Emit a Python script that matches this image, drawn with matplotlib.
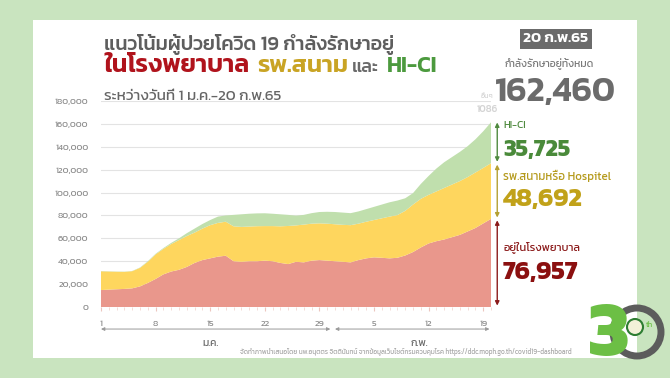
import matplotlib
matplotlib.use("Agg")
import matplotlib.pyplot as plt
from matplotlib.patches import Rectangle, Ellipse

plt.rcParams['font.family'] = ['Kanit', 'DejaVu Sans']

# 1 Jan - 20 Feb 2022 (day index 1..51)
days = list(range(1, 52))
hospital = [14800, 15200, 15500, 15800, 16300, 18000, 21000, 24500, 28500, 31000,
            32500, 35000, 38500, 41000, 42500, 44000, 44800, 40000, 39500, 40000,
            40000, 40500, 40000, 38500, 37500, 39500, 39000, 40500, 41000, 40500,
            40000, 39500, 39000, 41000, 42500, 43400, 43000, 42500, 43000, 45000,
            48000, 52000, 55500, 57500, 59000, 61000, 63000, 66000, 69000, 73000,
            76957]
hospitel = [16400, 15800, 15300, 14900, 15000, 16200, 18500, 21500, 22300, 24000,
            26000, 27000, 26500, 27500, 29000, 29500, 29700, 30500, 30500, 30300,
            30600, 30200, 30700, 32000, 33300, 31800, 33000, 32300, 32100, 32300,
            32300, 32300, 32500, 31800, 32000, 32600, 34500, 36500, 37300, 39000,
            41500, 42500, 42500, 43500, 45000, 46000, 47000, 47500, 48500, 48500,
            48692]
hici = [200, 200, 200, 200, 200, 300, 500, 500, 700, 1000,
        1500, 2500, 3500, 4000, 4500, 5500, 5500, 10000, 11000, 11200,
        11200, 11200, 10800, 10500, 9700, 8500, 8500, 9200, 9900, 10400,
        10700, 10700, 10500, 10700, 11000, 11500, 12000, 12500, 12700, 11000,
        10000, 13000, 16500, 20000, 22500, 24000, 25500, 27000, 29000, 32000,
        35725]
others_last = 1086
total_last = 162460
date_label = '20 ก.พ.65'

xtick_days = [1, 8, 15, 22, 29, 36, 43, 50]
xtick_labels = ['1', '8', '15', '22', '29', '5', '12', '19']
yticks = list(range(0, 180001, 20000))

W, H = 670, 378
fig = plt.figure(figsize=(6.7, 3.78), dpi=100, facecolor='#c9e4bf')


def fx(x):
    return x / W


def fy(y):
    return 1 - y / H


# white card
fig.patches.append(Rectangle((fx(33), fy(358)), fx(637) - fx(33), fy(20) - fy(358),
                             transform=fig.transFigure, facecolor='white',
                             edgecolor='none', zorder=-2))

ax = fig.add_axes([fx(101), fy(307), fx(491) - fx(101), fy(101) - fy(307)])
ax.set_facecolor('none')
ax.stackplot(days, hospital, hospitel, hici,
             colors=['#e9978c', '#fed65e', '#c0dfad'], linewidth=0)
ax.set_xlim(1, 51)
ax.set_ylim(0, 180000)
for s in ax.spines.values():
    s.set_visible(False)
ax.set_yticks(yticks)
ax.set_yticklabels([f'{v:,}' for v in yticks])
ax.yaxis.grid(True, color='#e3e3e3', lw=0.8)
ax.set_axisbelow(True)
ax.tick_params(axis='y', length=0, pad=9, labelsize=6.5, labelcolor='#8c8c8c')
ax.set_xticks(xtick_days)
ax.set_xticklabels(xtick_labels)
ax.set_xticks(days, minor=True)
ax.tick_params(axis='x', which='major', length=3, color='#ecc6bf', pad=6,
               labelsize=6.5, labelcolor='#8c8c8c')
ax.tick_params(axis='x', which='minor', length=2, color='#f2d6d0')

# month arrows under the axis
tr = ax.get_xaxis_transform()
arrow_kw = dict(arrowstyle='<|-|>', color='#9a9a9a', lw=0.7, mutation_scale=5,
                shrinkA=0, shrinkB=0)
ax.annotate('', xy=(1, -0.107), xytext=(30.4, -0.107), xycoords=tr,
            arrowprops=arrow_kw, annotation_clip=False)
ax.annotate('', xy=(31.0, -0.107), xytext=(50.8, -0.107), xycoords=tr,
            arrowprops=arrow_kw, annotation_clip=False)
ax.text(15.1, -0.175, 'ม.ค.', transform=tr, ha='center', va='center',
        fontsize=7.5, color='#6a6a6a')
ax.text(41.8, -0.175, 'ก.พ.', transform=tr, ha='center', va='center',
        fontsize=7.5, color='#6a6a6a')

# segment arrows at the right edge
seg_x = 51.8
h_top = hospital[-1]
y_top = h_top + hospitel[-1]
segs = [(0, h_top, '#8b1a1a'), (h_top, y_top, '#b4a033'), (y_top, total_last, '#4f8a3f')]
for lo, hi, col in segs:
    ax.annotate('', xy=(seg_x, lo), xytext=(seg_x, hi), xycoords='data',
                arrowprops=dict(arrowstyle='<|-|>', color=col, lw=1.0,
                                mutation_scale=6, shrinkA=1, shrinkB=1),
                annotation_clip=False)

# titles
fig.text(fx(104), fy(50), 'แนวโน้มผู้ป่วยโควิด 19 กำลังรักษาอยู่', fontsize=14.3,
         fontweight='medium', color='#5e5e5e', va='baseline')
fig.text(fx(104), fy(72), 'ในโรงพยาบาล', fontsize=18, fontweight='semibold',
         color='#b0131c', va='baseline')
fig.text(fx(257), fy(72), 'รพ.สนาม', fontsize=17.5, fontweight='semibold',
         color='#c9a424', va='baseline')
fig.text(fx(352), fy(72), 'และ', fontsize=13, fontweight='medium',
         color='#6a6a6a', va='baseline')
fig.text(fx(387), fy(72), 'HI-CI', fontsize=16, fontweight='semibold',
         color='#4c9a3e', va='baseline')
fig.text(fx(104), fy(100), 'ระหว่างวันที่ 1 ม.ค.-20 ก.พ.65', fontsize=11,
         fontweight='normal', color='#666666', va='baseline')

# right-hand summary
fig.text(fx(556), fy(39), date_label, fontsize=11, fontweight='semibold',
         color='white', ha='center', va='center',
         bbox=dict(boxstyle='square,pad=0.25', facecolor='#6b6b6b', edgecolor='none'))
fig.text(fx(549), fy(63), 'กำลังรักษาอยู่ทั้งหมด', fontsize=7.5,
         color='#7a7a7a', ha='center', va='center')
fig.text(fx(555), fy(101), f'{total_last:,}', fontsize=25, fontweight='semibold',
         color='#6b6b6b', ha='center', va='baseline')
fig.text(fx(487), fy(96), 'อื่นๆ', fontsize=5, color='#d4d4d4', ha='center', va='center')
fig.text(fx(487), fy(109), f'{others_last}', fontsize=7, fontweight='medium',
         color='#d4d4d4', ha='center', va='center')

fig.text(fx(503), fy(126), 'HI-CI', fontsize=7.5, color='#4f8a3f', va='center')
fig.text(fx(503), fy(156), f'{hici[-1]:,}', fontsize=17, fontweight='bold',
         color='#4a8a3a', va='baseline')
fig.text(fx(503), fy(176), 'รพ.สนามหรือ Hospitel', fontsize=8.3, color='#b59a1c',
         va='center')
fig.text(fx(503), fy(206), f'{hospitel[-1]:,}', fontsize=18.5, fontweight='bold',
         color='#c1a21a', va='baseline')
fig.text(fx(503), fy(247), 'อยู่ในโรงพยาบาล', fontsize=8, color='#8b1a1a',
         va='center')
fig.text(fx(503), fy(279), f'{hospital[-1]:,}', fontsize=18.5, fontweight='bold',
         color='#8b1010', va='baseline')

# source
fig.text(fx(240), fy(352),
         'จัดทำภาพนำเสนอโดย นพ.อนุตตร จิตตินันทน์ จากข้อมูลเว็บไซต์กรมควบคุมโรค '
         'https://ddc.moph.go.th/covid19-dashboard',
         fontsize=4.8, color='#a8a8a8', va='center')

# logo
fig.patches.append(Ellipse((fx(637), fy(332)), 48 / W, 48 / H, transform=fig.transFigure,
                           fill=False, edgecolor='#5c5c5c', lw=5, zorder=3))
fig.patches.append(Ellipse((fx(635), fy(327)), 16 / W, 16 / H, transform=fig.transFigure,
                           facecolor='#f3f1d8', edgecolor='#2e7d32', lw=1.5, zorder=3))
fig.text(fx(609), fy(337), '3', fontsize=56, fontweight='bold', color='#6cbf45',
         ha='center', va='center', zorder=4)
fig.text(fx(649), fy(325), 'th', fontsize=5.5, color='#6cbf45', ha='center',
         va='center', zorder=4)

fig.savefig('out.png', dpi=100, facecolor=fig.get_facecolor())
